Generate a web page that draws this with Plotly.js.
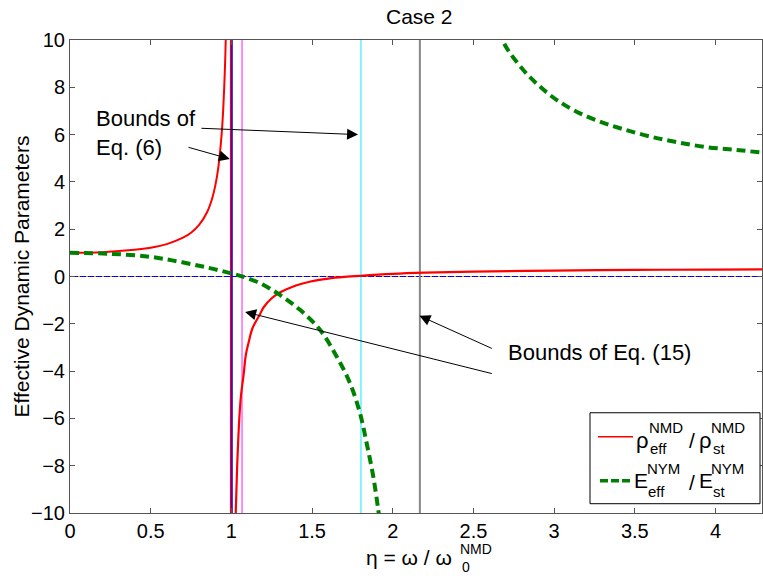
<!DOCTYPE html>
<html>
<head>
<meta charset="utf-8">
<script src="https://cdn.plot.ly/plotly-3.0.1.min.js"></script>
<style>html,body{margin:0;padding:0;background:#fff;}#chart{width:763px;height:576px;}</style>
</head>
<body>
<div id="chart"></div>
<script>
// ---- data ----
const etaRhoUp = [0, 0.2, 0.4, 0.5, 0.6, 0.7, 0.75, 0.8, 0.85, 0.88, 0.9, 0.92, 0.94, 0.95, 0.96, 0.965, 0.97];
const rhoUp    = [1.0, 1.03, 1.13, 1.22, 1.37, 1.64, 1.85, 2.18, 2.73, 3.28, 3.83, 4.66, 6.05, 7.15, 8.8, 10.0, 11.6];
const etaRhoLo = [1.022, 1.027, 1.035, 1.04, 1.05, 1.06, 1.075, 1.09, 1.11, 1.13, 1.177, 1.2, 1.25, 1.3, 1.4, 1.49, 1.6, 1.7, 1.8, 2.0, 2.2, 2.5, 3.0, 3.5, 4.0, 4.3];
const rhoLo    = [-12.5, -10.0, -8.2, -7.3, -5.9, -5.0, -4.2, -3.3, -2.7, -2.2, -1.6, -1.3, -0.92, -0.68, -0.38, -0.21, -0.09, -0.02, 0.03, 0.11, 0.16, 0.21, 0.25, 0.28, 0.29, 0.30];
const etaELo = [0, 0.25, 0.5, 0.68, 0.85, 1.0, 1.068, 1.177, 1.301, 1.425, 1.549, 1.652, 1.735, 1.797, 1.838, 1.879, 1.91, 1.93];
const ELo    = [1.0, 0.96, 0.83, 0.62, 0.38, 0.13, 0.0, -0.28, -0.78, -1.41, -2.25, -3.38, -4.51, -5.78, -7.04, -8.45, -9.86, -10.9];
const etaEHi = [2.66, 2.695, 2.809, 2.912, 3.015, 3.139, 3.284, 3.428, 3.594, 3.759, 3.945, 4.131, 4.3];
const EHi    = [10.4, 9.79, 8.73, 8.03, 7.47, 6.97, 6.55, 6.23, 5.92, 5.68, 5.47, 5.35, 5.23];
// vertical bound lines (eta) and colours
const boundEta    = [0.997, 1.004, 1.066, 1.803, 2.168];
const boundColors = ['#ff0000', '#0000ff', '#ff66ff', '#33eeff', '#888888'];
const boundWidths = [2, 1.5, 1.5, 1.2, 2];
const xTicks = [0, 0.5, 1, 1.5, 2, 2.5, 3, 3.5, 4];
const xTickText = ['0', '0.5', '1', '1.5', '2', '2.5', '3', '3.5', '4'];
const yTicks = [-10, -8, -6, -4, -2, 0, 2, 4, 6, 8, 10];

// ---- layout helpers (pixel -> paper) ----
const L = 70, T = 40, W = 692, H = 473.3;
const px = x => (x - L) / W;
const py = y => (T + H - y) / H;
const FONT = 'Liberation Sans, Arial, sans-serif';

const red = '#ff0000', green = '#008000';
const traces = [
  {x: etaRhoUp, y: rhoUp, mode: 'lines', line: {color: red, width: 2, shape: 'spline'}, showlegend: false, hoverinfo: 'skip'},
  {x: etaRhoLo, y: rhoLo, mode: 'lines', line: {color: red, width: 2.2, shape: 'spline'}, showlegend: false, hoverinfo: 'skip'},
  {x: etaELo, y: ELo, mode: 'lines', line: {color: green, width: 4, dash: '9px,5px', shape: 'spline'}, showlegend: false, hoverinfo: 'skip'},
  {x: etaEHi, y: EHi, mode: 'lines', line: {color: green, width: 4, dash: '9px,5px', shape: 'spline'}, showlegend: false, hoverinfo: 'skip'}
];

const shapes = [];
// zero line (multi-coloured in reference)
shapes.push({type: 'line', xref: 'paper', yref: 'y', x0: 0, x1: 1, y0: 0, y1: 0, line: {color: '#0000ff', width: 1.2}, layer: 'below'});
shapes.push({type: 'line', xref: 'paper', yref: 'y', x0: 0, x1: 1, y0: 0, y1: 0, line: {color: '#e0b000', width: 1.2, dash: '2px,6px'}, layer: 'below'});
boundEta.forEach((e, i) => {
  shapes.push({type: 'line', xref: 'x', yref: 'paper', x0: e, x1: e, y0: 0, y1: 1, line: {color: boundColors[i], width: boundWidths[i]}, layer: 'below'});
});
// legend box
const lgL = 590, lgR = 760, lgT = 413, lgB = 504;
shapes.push({type: 'rect', xref: 'paper', yref: 'paper', x0: px(lgL), x1: px(lgR), y0: py(lgB), y1: py(lgT), line: {color: '#000', width: 1}, fillcolor: '#fff', layer: 'above'});
shapes.push({type: 'line', xref: 'paper', yref: 'paper', x0: px(598), x1: px(633), y0: py(437), y1: py(437), line: {color: red, width: 1.5}, layer: 'above'});
shapes.push({type: 'line', xref: 'paper', yref: 'paper', x0: px(600), x1: px(633), y0: py(481), y1: py(481), line: {color: green, width: 3.5, dash: '8px,3px'}, layer: 'above'});

const annotations = [];
function txt(text, x, y, size, xanchor) {
  annotations.push({text: text, xref: 'paper', yref: 'paper', x: px(x), y: py(y), xanchor: xanchor || 'left', yanchor: 'middle',
    showarrow: false, font: {family: FONT, size: size, color: '#000'}});
}
// title
txt('Case 2', 419, 16, 21, 'center');
// legend texts
txt('ρ', 634, 441, 22); txt('NMD', 647, 428, 15); txt('eff', 648, 449, 15);
txt('/', 687, 441, 21); txt('ρ', 697, 441, 22); txt('NMD', 709, 428, 15); txt('st', 711, 449, 15);
txt('E', 632, 481, 21); txt('NYM', 645, 469, 15); txt('eff', 646, 492, 15);
txt('/', 687, 483, 21); txt('E', 697, 481, 21); txt('NYM', 709, 469, 15); txt('st', 711, 492, 15);
// x-axis title
txt('η = ω / ω', 454, 558, 21, 'right'); txt('NMD', 458, 549, 14); txt('0', 460, 567, 14);
// y-axis title
annotations.push({text: 'Effective Dynamic Parameters', xref: 'paper', yref: 'paper', x: px(21), y: 0.5, textangle: -90,
  xanchor: 'center', yanchor: 'middle', showarrow: false, font: {family: FONT, size: 21, color: '#000'}});
// text labels
annotations.push({text: 'Bounds of<br>Eq. (6)', xref: 'paper', yref: 'paper', x: px(94), y: py(133), xanchor: 'left', yanchor: 'middle',
  align: 'left', showarrow: false, font: {family: FONT, size: 22, color: '#000'}});
txt('Bounds of Eq. (15)', 506, 353, 22);
// arrows
function arrow(hx, hy, tx, ty) {
  annotations.push({text: '', xref: 'x', yref: 'y', axref: 'x', ayref: 'y', x: hx, y: hy, ax: tx, ay: ty,
    showarrow: true, arrowhead: 2, arrowsize: 2.2, arrowwidth: 1, arrowcolor: '#000', standoff: 0, startstandoff: 0});
}
arrow(1.785, 6.0, 0.805, 6.27);
arrow(0.99, 4.97, 0.725, 5.48);
arrow(2.165, -1.66, 2.623, -3.07);
arrow(1.085, -1.50, 2.623, -4.12);

const axisCommon = {showgrid: false, zeroline: false, showline: true, linecolor: '#555', linewidth: 1, mirror: 'ticks',
  ticks: 'inside', ticklen: 5, tickcolor: '#555', tickfont: {family: FONT, size: 20, color: '#000'}};

const layout = {
  width: 763, height: 576,
  margin: {l: L, r: 1, t: T, b: 63},
  paper_bgcolor: '#fff', plot_bgcolor: '#fff',
  font: {family: FONT, color: '#000'},
  xaxis: Object.assign({}, axisCommon, {range: [0, 4.288], tickvals: xTicks, ticktext: xTickText}),
  yaxis: Object.assign({}, axisCommon, {range: [-10, 10], tickvals: yTicks}),
  shapes: shapes,
  annotations: annotations,
  showlegend: false
};
Plotly.newPlot('chart', traces, layout, {displayModeBar: false, staticPlot: true});
</script>
</body>
</html>
